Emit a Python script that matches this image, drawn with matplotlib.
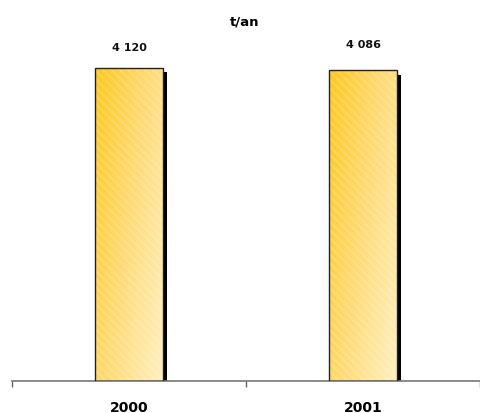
import matplotlib
matplotlib.use('Agg')
from matplotlib import pyplot as plt
from matplotlib import patheffects as pe
from matplotlib.colors import LinearSegmentedColormap
import numpy as np

years = ['2000', '2001']
tonnes = [4120, 4086]
value_labels = ['4 120', '4 086']
unit = 't/an'

plt.rcParams['font.family'] = ['DejaVu Sans']
plt.rcParams['hatch.linewidth'] = 1.5

fig = plt.figure(figsize=(4.81, 4.14), dpi=100)
ax = fig.add_axes([12/481, 32/414, 468/481, 342/414])

# yellow fill, darker at top-left, paler at bottom-right
cmap = LinearSegmentedColormap.from_list('gold', ['#FFC81E', '#FFDB75', '#FFF0C0'])
gx, gy = np.meshgrid(np.linspace(0, 1, 60), np.linspace(0, 1, 200))
grad = 0.6*gx + 0.4*gy

x = np.arange(len(years))
width = 0.29
bars = ax.bar(x, tonnes, width=width, color='none', edgecolor='#222222',
              linewidth=1.0, zorder=3)
for b, v in zip(bars, tonnes):
    x0 = b.get_x()
    # black drop shadow behind the bar
    sh = ax.bar(x0 + width/2, v, width=width, color='black', zorder=1)[0]
    sh.set_path_effects([pe.Stroke(offset=(3, -3), linewidth=0, foreground='black'),
                         pe.Normal()])
    im = ax.imshow(grad, cmap=cmap, extent=[x0, x0 + width, 0, v],
                   aspect='auto', origin='upper', zorder=2)
    im.set_clip_path(b)
    ax.bar(x0 + width/2, v, width=width, color='none', edgecolor='white',
           hatch='\\\\\\\\', linewidth=0, alpha=0.18, zorder=2.5)

# value labels above the bars
ax.text(x[0], tonnes[0] + 275, value_labels[0], ha='center', va='center',
        fontsize=8, fontweight='bold', color='#111111')
ax.text(x[1], tonnes[1] + 350, value_labels[1], ha='center', va='center',
        fontsize=8, fontweight='bold', color='#111111')

ax.set_xlim(-0.5, 1.5)
ax.set_ylim(0, 4500)
ax.set_xticks([-0.5, 0.5, 1.5])
ax.set_xticklabels([])
ax.set_xticks(x, minor=True)
ax.set_xticklabels(years, minor=True, fontsize=10, fontweight='bold')
ax.tick_params(axis='x', which='minor', length=0, pad=14)
ax.tick_params(axis='x', which='major', length=4, width=1, color='#666666',
               direction='out')
ax.set_yticks([])
for s in ['top', 'right', 'left']:
    ax.spines[s].set_visible(False)
ax.spines['bottom'].set_color('#777777')
ax.spines['bottom'].set_linewidth(1.2)

fig.text(245/481, 1 - 22/414, unit, ha='center', va='center',
         fontsize=9.5, fontweight='bold')

fig.savefig('out.png', dpi=100)
